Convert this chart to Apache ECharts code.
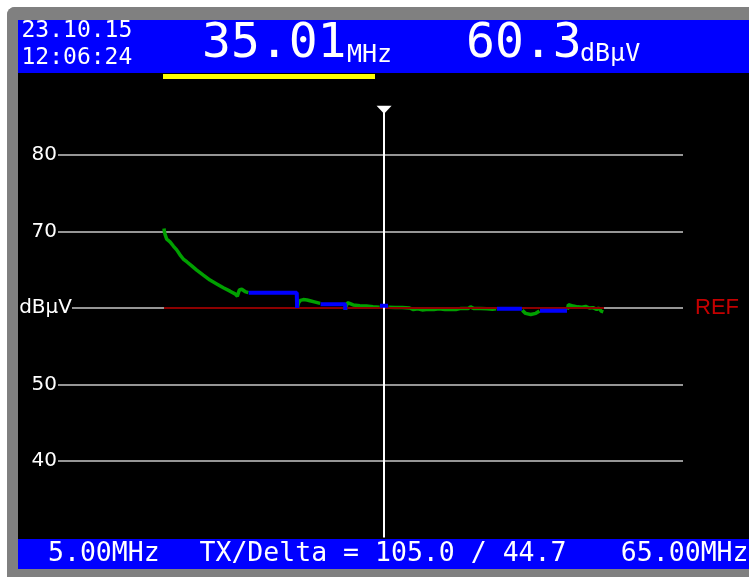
<!DOCTYPE html>
<html>
<head>
<meta charset="utf-8">
<title>Spectrum trace</title>
<script src="https://cdn.jsdelivr.net/npm/echarts@6/dist/echarts.min.js"></script>
<style>
  html, body { margin: 0; padding: 0; background: #ffffff; }
  #chart { width: 749px; height: 577px; }
</style>
</head>
<body>
<div id="chart"></div>
<script>
// ---- measurement data ----
// Live trace (MHz / dBµV); null marks a gap where the held trace is drawn.
const traceMHz = [
  5.00, 5.05, 5.15, 5.37, 5.82, 6.27, 6.73, 7.18, 7.63, 8.10, 8.78, 9.46, 10.36, 11.27, 12.19, 13.09, 14.00, 14.68, 15.00, 15.27, 15.60, 16.05, 16.50,
  null,
  23.20, 23.35, 23.60, 24.00, 24.50, 24.90, 25.50, 26.30,
  null,
  29.75, 30.00, 30.30, 30.80, 31.70, 32.60, 33.50, 34.40,
  null,
  35.60, 36.50, 37.50, 38.50, 39.00, 39.60, 40.20, 41.00, 41.80, 42.50, 43.30, 44.00, 44.80, 45.50, 46.50, 46.80, 47.20, 48.20, 49.00, 49.80, 50.30,
  null,
  53.85, 54.30, 55.00, 55.70, 56.20,
  null,
  60.00, 60.15, 60.40, 60.80, 61.40, 62.00, 62.50, 63.00, 63.50, 64.00, 64.30, 64.60, 64.90
];
const traceDb = [
  70.4, 70.0, 69.6, 69.0, 68.65, 68.1, 67.6, 66.95, 66.4, 66.05, 65.5, 64.95, 64.3, 63.65, 63.15, 62.65, 62.2, 61.85, 61.55, 62.35, 62.45, 62.15, 62.0,
  null,
  60.0, 60.7, 61.0, 61.1, 61.05, 60.95, 60.8, 60.6,
  null,
  59.8, 60.7, 60.6, 60.4, 60.3, 60.25, 60.15, 60.1,
  null,
  60.1, 60.05, 60.05, 60.0, 59.8, 59.9, 59.75, 59.85, 59.8, 59.9, 59.8, 59.85, 59.8, 59.95, 59.95, 60.15, 59.95, 59.95, 59.9, 59.85, 59.9,
  null,
  59.7, 59.3, 59.15, 59.3, 59.6,
  null,
  59.8, 60.45, 60.3, 60.25, 60.15, 60.1, 60.2, 60.0, 60.05, 59.8, 60.0, 59.6, 59.5
];
// Held (flat) segments of the trace
const holdMHz = [16.55, 23.10, 23.15, null, 26.35, 29.70, 29.72, null, 34.45, 35.55, null, 50.40, 53.80, null, 56.27, 59.95];
const holdDb  = [62.0, 62.0, 60.0, null, 60.5, 60.5, 59.75, null, 60.3, 60.3, null, 59.9, 59.9, null, 59.65, 59.65];

// Reference level and sweep span
const refLevel = 60;
const spanStartMHz = 5.00;
const spanStopMHz = 65.00;

// Marker
const markerMHz = 35.01;
const markerLevel = 60.3;

// Level scale
const levelTicks = [30, 40, 50, 60, 70, 80, 90];
const levelUnit = 'dBμV';

// Status texts
const dateText = '23.10.15';
const timeText = '12:06:24';
const txDeltaText = 'TX/Delta = 105.0 / 44.7';

// ---- build ----
const pairs = (xs, ys) => xs.map((x, i) => (x === null ? [null, null] : [x, ys[i]]));

const chart = echarts.init(document.getElementById('chart'), null, { renderer: 'canvas' });

const mono = '"DejaVu Sans Mono", monospace';
const sans = '"DejaVu Sans", sans-serif';

const txt = (text, x, y, size, align, color) => ({
  type: 'text',
  silent: true,
  style: {
    text: text, x: x, y: y,
    fill: color || '#ffffff',
    font: size + 'px ' + mono,
    align: align || 'left', textAlign: align || 'left',
    verticalAlign: 'middle', textVerticalAlign: 'middle'
  }
});

const levelMin = levelTicks[0];
const levelMax = levelTicks[levelTicks.length - 1];

const option = {
  backgroundColor: '#000000',
  animation: false,
  grid: { left: 58, right: 66, top: 78.5, bottom: 39.5, containLabel: false },
  xAxis: {
    type: 'value',
    min: -9.455,
    max: 75.77,
    show: false
  },
  yAxis: [
    {
      type: 'value',
      min: levelMin, max: levelMax, interval: 10,
      position: 'left',
      axisLine: { show: false }, axisTick: { show: false },
      splitLine: { show: true, showMinLine: false, showMaxLine: false, lineStyle: { color: '#c8c8c8', width: 1.5 } },
      axisLabel: {
        color: '#ffffff', fontFamily: sans, fontSize: 20, margin: 1,
        showMinLabel: false, showMaxLabel: false,
        formatter: v => (v === refLevel ? '' : String(v))
      }
    },
    {
      type: 'value',
      min: levelMin, max: levelMax, interval: 10,
      position: 'left',
      axisLine: { show: false }, axisTick: { show: false }, splitLine: { show: false },
      axisLabel: {
        color: '#ffffff', fontFamily: sans, fontSize: 20, margin: -14,
        backgroundColor: '#000000', padding: [1, 0, 1, 0],
        showMinLabel: false, showMaxLabel: false,
        formatter: v => (v === refLevel ? levelUnit : '')
      }
    },
    {
      type: 'value',
      min: levelMin, max: levelMax, interval: 10,
      position: 'right',
      axisLine: { show: false }, axisTick: { show: false }, splitLine: { show: false },
      axisLabel: {
        color: '#c40000', fontFamily: '"Liberation Sans", sans-serif', fontSize: 22, margin: 12,
        showMinLabel: false, showMaxLabel: false,
        formatter: v => (v === refLevel ? 'REF' : '')
      }
    }
  ],
  series: [
    {
      name: 'trace',
      type: 'line',
      yAxisIndex: 0,
      data: pairs(traceMHz, traceDb),
      showSymbol: false, symbol: 'none',
      connectNulls: false,
      lineStyle: { color: '#00a000', width: 3.5 },
      z: 3
    },
    {
      name: 'ref',
      type: 'line',
      yAxisIndex: 0,
      data: [[spanStartMHz, refLevel], [spanStopMHz, refLevel]],
      showSymbol: false, symbol: 'none',
      lineStyle: { color: '#8c0000', width: 2 },
      z: 4,
      markLine: {
        silent: true,
        symbol: ['none', 'none'],
        label: { show: false },
        lineStyle: { color: '#ffffff', width: 2, type: 'solid' },
        data: [[{ coord: [markerMHz, 86.2] }, { coord: [markerMHz, levelMin] }]]
      },
      markPoint: {
        silent: true,
        symbol: 'triangle',
        symbolRotate: 180,
        symbolSize: [15, 8],
        label: { show: false },
        itemStyle: { color: '#ffffff' },
        data: [{ coord: [markerMHz, 85.9] }]
      }
    },
    {
      name: 'hold',
      type: 'line',
      yAxisIndex: 0,
      data: pairs(holdMHz, holdDb),
      showSymbol: false, symbol: 'none',
      connectNulls: false,
      lineStyle: { color: '#0000ff', width: 4 },
      z: 5
    }
  ],
  graphic: [
    // outer frame
    { type: 'rect', silent: true, shape: { x: 0, y: 0, width: 749, height: 7 }, style: { fill: '#ffffff' } },
    { type: 'rect', silent: true, shape: { x: 0, y: 0, width: 7, height: 577 }, style: { fill: '#ffffff' } },
    { type: 'rect', silent: true, shape: { x: 7, y: 7, width: 10, height: 10 }, style: { fill: '#ffffff' } },
    { type: 'rect', silent: true, shape: { x: 7, y: 7, width: 742, height: 13, r: [8, 0, 0, 0] }, style: { fill: '#808080' } },
    { type: 'rect', silent: true, shape: { x: 7, y: 7, width: 11, height: 570, r: [8, 0, 0, 0] }, style: { fill: '#808080' } },
    { type: 'rect', silent: true, shape: { x: 7, y: 569, width: 742, height: 8 }, style: { fill: '#808080' } },
    // header bar
    { type: 'rect', silent: true, shape: { x: 18, y: 20, width: 731, height: 53 }, style: { fill: '#0000ff' } },
    { type: 'rect', silent: true, shape: { x: 163, y: 74, width: 212, height: 5 }, style: { fill: '#ffff00' } },
    txt(dateText, 21.5, 31, 23),
    txt(timeText, 21.5, 58.5, 23),
    txt(markerMHz.toFixed(2), 202, 44.7, 48),
    txt('MHz', 347, 55, 25),
    txt(markerLevel.toFixed(1), 466, 44.7, 48),
    txt(levelUnit, 580, 54.5, 25),
    // footer bar
    { type: 'rect', silent: true, shape: { x: 18, y: 539, width: 731, height: 30 }, style: { fill: '#0000ff' } },
    txt(spanStartMHz.toFixed(2) + 'MHz', 48, 554, 26.5),
    txt(txDeltaText, 199.5, 554, 26.5),
    txt(spanStopMHz.toFixed(2) + 'MHz', 748.5, 554, 26.5, 'right')
  ]
};

chart.setOption(option);
</script>
</body>
</html>
